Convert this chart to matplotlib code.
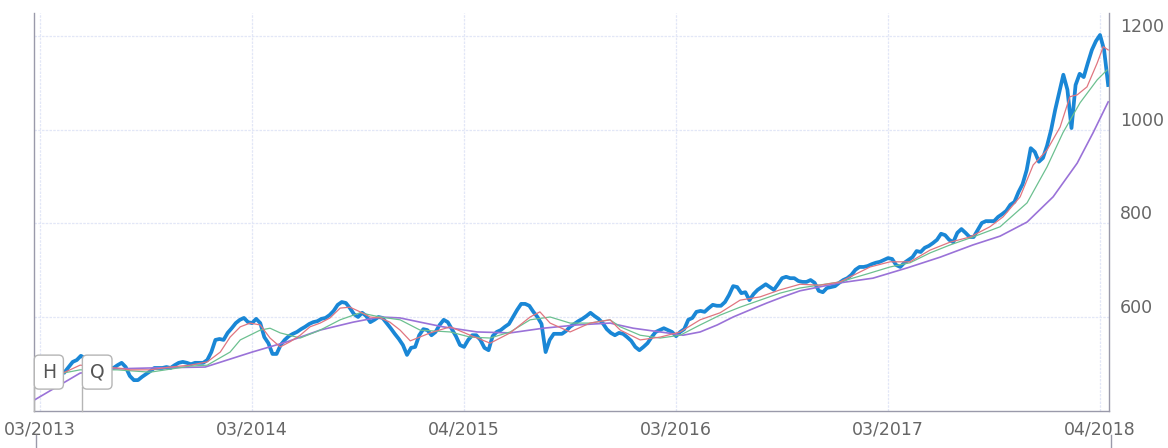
import matplotlib
matplotlib.use('Agg')
import matplotlib.pyplot as plt
from matplotlib.lines import Line2D
import numpy as np

# weekly closes, week 0 = 03/2013
close_start_week = 6
close = [
    482, 493, 504, 508, 517, 512, 508, 504, 499, 495,
    493, 491, 491, 497, 502, 493, 474, 465, 465, 472,
    478, 484, 491, 491, 491, 493, 491, 497, 502, 504,
    502, 499, 502, 502, 502, 508, 525, 551, 553, 551,
    566, 576, 587, 594, 598, 589, 587, 596, 587, 557,
    544, 521, 521, 540, 551, 559, 564, 568, 574, 579,
    585, 589, 591, 596, 598, 604, 613, 626, 632, 630,
    619, 606, 600, 609, 602, 589, 594, 600, 598, 587,
    576, 564, 553, 540, 519, 534, 536, 561, 574, 572,
    561, 568, 583, 594, 589, 574, 559, 540, 536, 551,
    561, 561, 551, 534, 529, 559, 568, 572, 579, 585,
    600, 615, 628, 628, 624, 611, 600, 585, 525, 551,
    564, 564, 564, 570, 579, 585, 591, 596, 602, 609,
    602, 596, 587, 574, 566, 561, 566, 564, 557, 549,
    536, 529, 536, 544, 557, 568, 572, 576, 572, 568,
    559, 568, 574, 594, 598, 611, 613, 611, 619, 626,
    624, 624, 632, 647, 666, 664, 651, 653, 636, 649,
    658, 664, 670, 664, 658, 670, 683, 686, 683, 683,
    677, 675, 675, 679, 673, 656, 653, 662, 664, 666,
    673, 679, 683, 690, 701, 707, 707, 709, 713, 716,
    718, 722, 726, 724, 711, 707, 716, 722, 728, 741,
    739, 748, 752, 758, 765, 778, 775, 765, 760, 780,
    788, 780, 771, 771, 786, 801, 805, 805, 805, 814,
    820, 827, 840, 846, 867, 884, 914, 961, 953, 932,
    940, 966, 1000, 1043, 1081, 1118, 1086, 1004, 1096, 1120,
    1113, 1143, 1171, 1190, 1203, 1171, 1096,
]

# moving averages
short_w = [5.6, 9.8, 18.9, 22.1, 27.0, 31.9, 36.8, 41.0, 44.2, 46.6, 49.1, 51.5, 54.0, 56.4,
           58.9, 61.3, 63.8, 66.2, 68.7, 71.1, 73.6, 76.0, 78.5, 80.9, 83.4, 85.8, 88.3, 90.8,
           95.7, 100.6, 105.5, 110.4, 115.3, 120.2, 122.6, 125.1, 130.0, 134.9, 139.8, 142.3,
           147.2, 152.1, 157.0, 161.9, 166.8, 171.7, 176.6, 181.5, 186.4, 191.3, 196.2, 203.6,
           208.5, 213.4, 218.3, 223.2, 228.1, 233.0, 236.2, 240.4, 243.6, 247.0, 250.2, 252.6,
           254.4, 256.8, 259.3, 260.8, 262.0]
short_ma = [480, 497, 491, 487, 487, 493, 497, 504, 525, 557, 579, 587, 583, 555,
            536, 547, 561, 579, 587, 598, 619, 621, 611, 600, 598, 589, 572, 549,
            566, 579, 561, 544, 566, 600, 611, 587, 568, 587, 594, 572,
            551, 557, 568, 594, 609, 636, 643, 658, 670, 668, 675, 707,
            718, 718, 743, 760, 771, 793, 814, 857, 925, 957, 1006, 1071,
            1075, 1092, 1143, 1178, 1171]

mid_w = [5.6, 9.8, 18.9, 27.0, 36.8, 41.0, 46.6, 49.1, 54.0, 56.4, 58.9, 63.8, 68.7, 73.6,
         78.5, 83.4, 88.3, 93.2, 100.6, 105.5, 110.4, 115.3, 120.2, 125.1, 130.0, 134.9,
         139.8, 142.3, 147.2, 152.1, 157.0, 161.9, 166.8, 171.7, 176.6, 181.5, 186.4, 196.2,
         203.6, 208.5, 213.4, 218.3, 223.2, 228.8, 235.5, 242.1, 247.0, 250.9, 255.1, 259.3,
         261.7]
mid_ma = [480, 487, 487, 482, 495, 497, 525, 551, 572, 576, 566, 555, 572, 594,
          609, 600, 594, 572, 568, 557, 555, 568, 594, 600, 587, 587,
          594, 579, 561, 555, 561, 583, 604, 621, 636, 651, 662, 675,
          694, 707, 716, 737, 754, 771, 793, 844, 921, 994, 1058, 1107,
          1128]

long_w = [-1.5, 9.8, 17.9, 27.0, 40.5, 52.0, 60.6, 68.7, 76.8, 83.4, 88.3, 93.2, 98.8,
          107.2, 115.3, 123.4, 131.7, 139.8, 145.5, 153.8, 157.7, 161.9, 166.1, 170.0,
          174.1, 178.3, 182.2, 186.4, 196.2, 204.3, 212.7, 220.8, 228.8, 235.5, 242.1,
          248.5, 254.4, 258.3, 262.0]
long_ma = [422, 480, 489, 491, 493, 525, 547, 572, 589, 600, 598, 589, 579,
           568, 566, 576, 583, 587, 576, 566, 561, 568, 583, 600,
           615, 630, 643, 656, 673, 683, 705, 728, 754, 773, 803,
           857, 929, 994, 1060]

tick_weeks = [0, 52, 104, 156, 208, 260]
tick_labels = ['03/2013', '03/2014', '04/2015', '03/2016', '03/2017', '04/2018']
y_ticks = [600, 800, 1000, 1200]

event_labels = ['H', 'Q']
event_weeks = [-1.5, 10.3]
event_stem_top = 450

weeks = np.arange(close_start_week, close_start_week + len(close))

fig = plt.figure(figsize=(11.68, 4.48), dpi=100)
ax = fig.add_axes([34 / 1168, 37 / 448, 1075 / 1168, 398 / 448])

ax.plot(weeks, close, color='#1a87d6', lw=2.7, solid_joinstyle='round', zorder=3)
ax.plot(long_w, long_ma, color='#9a72d8', lw=1.2, zorder=4)
ax.plot(mid_w, mid_ma, color='#6cc090', lw=0.9, zorder=5)
ax.plot(short_w, short_ma, color='#e07580', lw=0.9, zorder=6)

ax.set_xlim(-1.5, 262.2)
ax.set_ylim(399, 1250)
ax.set_xticks(tick_weeks)
ax.set_xticklabels(tick_labels)
ax.set_yticks(y_ticks)
ax.yaxis.tick_right()
ax.tick_params(axis='y', length=0, pad=8, labelsize=12.5, labelcolor='#666666')
ax.tick_params(axis='x', length=0, pad=7, labelsize=12.5, labelcolor='#666666')
for lab in ax.get_yticklabels():
    lab.set_va('bottom')

ax.grid(True, color='#e2e7f7', lw=0.9, linestyle=(0, (2, 1)))
ax.set_axisbelow(True)

ax.spines['top'].set_visible(False)
for side in ['left', 'right', 'bottom']:
    ax.spines[side].set_color('#9a9aaa')
    ax.spines[side].set_linewidth(1.0)

# event flags: a stem from the axis and a rounded box whose left edge sits on it
for lab, w in zip(event_labels, event_weeks):
    ax.plot([w, w], [399, event_stem_top], color='#b5b5b5', lw=1, zorder=9, clip_on=False)
    ax.annotate(lab, xy=(w, 399), xytext=(5.6, 28), textcoords='offset points',
                ha='left', va='center', fontsize=13.5, color='#555555',
                bbox=dict(boxstyle='round,pad=0.4,rounding_size=0.25', fc='white',
                          ec='#b5b5b5', lw=1),
                zorder=10, annotation_clip=False)

# top edge of the panel below, cut off by the frame
fig.add_artist(Line2D([36 / 1168, 36 / 1168], [0, 13 / 448], color='#9a9aaa', lw=1))
fig.add_artist(Line2D([1111 / 1168, 1111 / 1168], [0, 13 / 448], color='#9a9aaa', lw=1))

fig.savefig('out.png', dpi=100)
